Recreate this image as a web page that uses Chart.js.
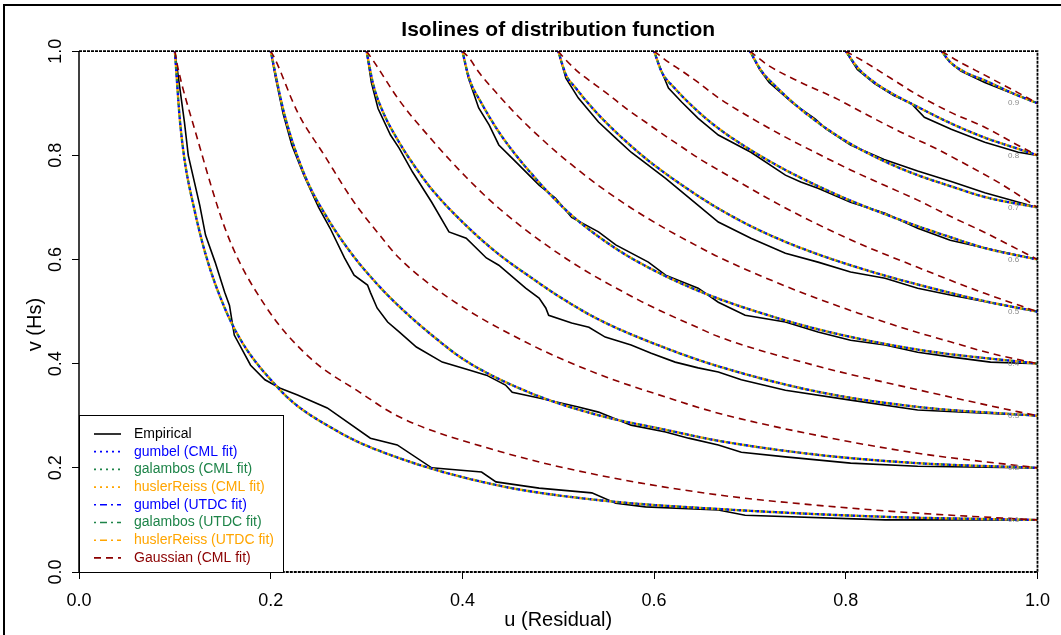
<!DOCTYPE html>
<html>
<head>
<meta charset="utf-8">
<script src="https://cdn.jsdelivr.net/npm/chart.js@4.4.1/dist/chart.umd.min.js"></script>
<style>
html, body { margin: 0; padding: 0; background: #fff; }
#wrap { position: relative; width: 1061px; height: 635px; }
</style>
</head>
<body>
<div id="wrap"><canvas id="isolines" width="1061" height="635"></canvas></div>
<script>
'use strict';

// contour levels and tick labels
const levels = ['0.1', '0.2', '0.3', '0.4', '0.5', '0.6', '0.7', '0.8', '0.9'];
const uTickLabels = ['0.0', '0.2', '0.4', '0.6', '0.8', '1.0'];
const vTickLabels = ['0.0', '0.2', '0.4', '0.6', '0.8', '1.0'];

// empirical isolines, [u, v], one list per level
const empiricalIsolines = [
  [[0.1,1],[0.11,0.864],[0.114,0.8],[0.126,0.704],[0.132,0.647],[0.142,0.595],[0.152,0.537],[0.157,0.512],[0.162,0.455],[0.179,0.397],[0.194,0.369],[0.21,0.353],[0.228,0.34],[0.259,0.315],[0.304,0.257],[0.332,0.244],[0.368,0.2],[0.42,0.192],[0.435,0.173],[0.48,0.161],[0.535,0.152],[0.56,0.132],[0.591,0.125],[0.667,0.119],[0.695,0.109],[0.841,0.1],[1,0.1]],
  [[0.2,1],[0.205,0.95],[0.213,0.88],[0.222,0.82],[0.235,0.76],[0.25,0.7],[0.262,0.66],[0.277,0.603],[0.287,0.57],[0.301,0.551],[0.304,0.537],[0.311,0.507],[0.322,0.48],[0.334,0.461],[0.352,0.432],[0.379,0.403],[0.407,0.388],[0.425,0.378],[0.445,0.359],[0.452,0.345],[0.48,0.334],[0.521,0.317],[0.542,0.307],[0.576,0.282],[0.612,0.269],[0.636,0.257],[0.667,0.244],[0.691,0.23],[0.737,0.221],[0.805,0.209],[0.875,0.203],[1,0.2]],
  [[0.3,1],[0.305,0.94],[0.312,0.89],[0.325,0.839],[0.334,0.814],[0.348,0.768],[0.368,0.71],[0.386,0.653],[0.404,0.641],[0.425,0.603],[0.438,0.589],[0.466,0.545],[0.48,0.526],[0.487,0.507],[0.49,0.493],[0.514,0.478],[0.532,0.47],[0.549,0.451],[0.576,0.436],[0.597,0.42],[0.622,0.403],[0.646,0.392],[0.667,0.384],[0.691,0.369],[0.737,0.349],[0.805,0.33],[0.875,0.311],[1,0.3]],
  [[0.4,1],[0.406,0.95],[0.417,0.891],[0.428,0.858],[0.438,0.82],[0.456,0.787],[0.48,0.743],[0.497,0.718],[0.514,0.681],[0.542,0.653],[0.56,0.628],[0.594,0.595],[0.612,0.57],[0.646,0.545],[0.667,0.518],[0.695,0.493],[0.737,0.48],[0.771,0.461],[0.805,0.445],[0.841,0.436],[0.875,0.422],[0.909,0.413],[0.951,0.403],[1,0.4]],
  [[0.5,1],[0.508,0.948],[0.521,0.91],[0.542,0.864],[0.56,0.833],[0.576,0.806],[0.612,0.756],[0.646,0.704],[0.667,0.672],[0.701,0.641],[0.737,0.612],[0.771,0.595],[0.805,0.576],[0.841,0.564],[0.875,0.545],[0.909,0.532],[1,0.5]],
  [[0.6,1],[0.608,0.96],[0.615,0.929],[0.629,0.902],[0.646,0.871],[0.667,0.839],[0.701,0.806],[0.737,0.762],[0.753,0.749],[0.771,0.737],[0.805,0.71],[0.841,0.689],[0.875,0.66],[0.909,0.637],[0.945,0.622],[1,0.6]],
  [[0.7,1],[0.71,0.965],[0.72,0.94],[0.745,0.9],[0.768,0.87],[0.78,0.85],[0.79,0.838],[0.805,0.82],[0.84,0.792],[0.875,0.77],[0.91,0.75],[0.945,0.728],[1,0.7]],
  [[0.8,1],[0.812,0.965],[0.83,0.938],[0.85,0.915],[0.868,0.9],[0.882,0.873],[0.91,0.85],[0.945,0.825],[0.98,0.806],[1,0.8]],
  [[0.9,1],[0.908,0.98],[0.92,0.962],[0.945,0.94],[0.972,0.92],[1,0.9]],
];

// fitted extreme-value copulas (gumbel, galambos, huslerReiss; CML and UTDC) lie on top of each other
const fittedIsolines = [
  [[0.1,1],[0.106,0.853],[0.121,0.691],[0.152,0.507],[0.207,0.355],[0.27,0.27],[0.332,0.22],[0.438,0.166],[0.542,0.138],[0.667,0.121],[0.84,0.106],[1,0.1]],
  [[0.2,1],[0.214,0.881],[0.235,0.764],[0.259,0.68],[0.287,0.605],[0.311,0.553],[0.334,0.51],[0.37,0.452],[0.404,0.405],[0.472,0.343],[0.542,0.301],[0.612,0.273],[0.667,0.252],[0.771,0.225],[0.875,0.209],[1,0.2]],
  [[0.3,1],[0.307,0.936],[0.317,0.884],[0.334,0.825],[0.348,0.785],[0.368,0.735],[0.404,0.665],[0.438,0.61],[0.472,0.565],[0.5,0.53],[0.542,0.485],[0.612,0.43],[0.667,0.395],[0.771,0.346],[0.875,0.317],[1,0.3]],
  [[0.4,1],[0.407,0.948],[0.42,0.9],[0.438,0.845],[0.456,0.8],[0.472,0.765],[0.49,0.728],[0.508,0.695],[0.529,0.662],[0.556,0.626],[0.576,0.603],[0.612,0.568],[0.646,0.54],[0.667,0.525],[0.695,0.507],[0.771,0.466],[0.875,0.427],[1,0.4]],
  [[0.5,1],[0.508,0.955],[0.518,0.93],[0.529,0.905],[0.542,0.878],[0.56,0.845],[0.576,0.818],[0.594,0.79],[0.612,0.765],[0.629,0.743],[0.646,0.722],[0.667,0.698],[0.701,0.664],[0.737,0.634],[0.771,0.61],[0.805,0.589],[0.841,0.569],[0.875,0.552],[0.909,0.536],[0.945,0.52],[1,0.5]],
  [[0.6,1],[0.608,0.96],[0.622,0.928],[0.646,0.884],[0.667,0.852],[0.701,0.81],[0.737,0.772],[0.771,0.741],[0.805,0.713],[0.841,0.687],[0.875,0.664],[0.909,0.643],[0.945,0.622],[1,0.6]],
  [[0.7,1],[0.712,0.962],[0.726,0.934],[0.747,0.898],[0.768,0.867],[0.785,0.845],[0.805,0.822],[0.841,0.788],[0.875,0.762],[0.909,0.741],[0.945,0.72],[1,0.7]],
  [[0.8,1],[0.813,0.967],[0.83,0.94],[0.851,0.916],[0.875,0.893],[0.909,0.862],[0.945,0.834],[0.979,0.813],[1,0.8]],
  [[0.9,1],[0.909,0.979],[0.924,0.96],[0.945,0.944],[0.972,0.921],[1,0.9]],
];

// Gaussian copula (CML fit)
const gaussianIsolines = [
  [[0.1,1],[0.103,0.97],[0.121,0.848],[0.155,0.647],[0.194,0.512],[0.241,0.411],[0.293,0.345],[0.334,0.298],[0.438,0.232],[0.542,0.186],[0.667,0.148],[0.771,0.128],[0.875,0.113],[1,0.1]],
  [[0.2,1],[0.204,0.987],[0.228,0.883],[0.256,0.8],[0.287,0.71],[0.311,0.653],[0.334,0.603],[0.386,0.526],[0.472,0.436],[0.542,0.38],[0.612,0.336],[0.667,0.305],[0.771,0.262],[0.875,0.228],[1,0.2]],
  [[0.3,1],[0.308,0.979],[0.334,0.906],[0.369,0.828],[0.404,0.758],[0.439,0.697],[0.508,0.602],[0.584,0.522],[0.612,0.497],[0.646,0.469],[0.667,0.452],[0.771,0.395],[0.875,0.35],[0.979,0.308],[1,0.3]],
  [[0.4,1],[0.407,0.987],[0.417,0.96],[0.435,0.921],[0.456,0.879],[0.472,0.85],[0.497,0.808],[0.514,0.782],[0.542,0.742],[0.576,0.699],[0.612,0.659],[0.646,0.625],[0.667,0.605],[0.737,0.549],[0.781,0.518],[0.813,0.497],[0.847,0.476],[0.875,0.46],[0.909,0.442],[0.951,0.42],[1,0.4]],
  [[0.5,1],[0.508,0.983],[0.521,0.96],[0.539,0.935],[0.553,0.916],[0.57,0.891],[0.591,0.864],[0.612,0.837],[0.629,0.816],[0.646,0.795],[0.667,0.772],[0.737,0.699],[0.805,0.638],[0.875,0.585],[0.945,0.535],[1,0.5]],
  [[0.6,1],[0.615,0.979],[0.629,0.962],[0.646,0.94],[0.66,0.92],[0.67,0.907],[0.701,0.872],[0.737,0.835],[0.771,0.803],[0.805,0.772],[0.841,0.742],[0.875,0.714],[0.909,0.683],[0.945,0.652],[0.979,0.62],[1,0.6]],
  [[0.7,1],[0.719,0.973],[0.753,0.94],[0.789,0.91],[0.823,0.877],[0.857,0.845],[0.893,0.814],[0.927,0.781],[0.962,0.745],[1,0.7]],
  [[0.8,1],[0.82,0.979],[0.847,0.948],[0.875,0.916],[0.909,0.883],[0.945,0.854],[0.979,0.82],[1,0.8]],
  [[0.9,1],[0.919,0.979],[0.945,0.954],[0.979,0.921],[1,0.9]],
];

const seriesNames = ['Empirical', 'gumbel (CML fit)', 'galambos (CML fit)', 'huslerReiss (CML fit)',
  'gumbel (UTDC fit)', 'galambos (UTDC fit)', 'huslerReiss (UTDC fit)', 'Gaussian (CML fit)'];

const BLUE = '#0000ff', GREEN = '#1e8449', ORANGE = '#ffa500', DARKRED = '#8b0000';
const DOTTED = [2, 4], DOTDASH = [2, 4, 7, 4], DASHED = [7, 5];
// offset keeps the overlapping dotted lines from hiding each other
const seriesStyles = [
  { color: '#000', dash: [], offset: 0, width: 1.6, smooth: false, order: 9 },
  { color: BLUE, dash: DOTTED, offset: 0, width: 2.4, smooth: true, order: 4 },
  { color: GREEN, dash: DOTTED, offset: 2, width: 2.4, smooth: true, order: 3 },
  { color: ORANGE, dash: DOTTED, offset: 4, width: 2.4, smooth: true, order: 2 },
  { color: BLUE, dash: DOTDASH, offset: 0, width: 1.6, smooth: true, order: 7 },
  { color: GREEN, dash: DOTDASH, offset: 6, width: 1.6, smooth: true, order: 6 },
  { color: ORANGE, dash: DOTDASH, offset: 11, width: 1.6, smooth: true, order: 5 },
  { color: DARKRED, dash: DASHED, offset: 0, width: 1.6, smooth: true, order: 1 },
];

const FONT = 'Liberation Sans, Arial, Helvetica, sans-serif';

function isolinesFor(s) {
  if (s === 0) return empiricalIsolines;
  if (s === 7) return gaussianIsolines;
  return fittedIsolines;
}

const datasets = [];
seriesNames.forEach((name, s) => {
  const st = seriesStyles[s];
  isolinesFor(s).forEach((line, i) => {
    datasets.push({
      label: name + ' ' + levels[i],
      data: line.map(p => ({ x: p[0], y: p[1] })),
      showLine: true,
      borderColor: st.color,
      borderWidth: st.width,
      borderDash: st.dash,
      borderDashOffset: st.offset,
      pointRadius: 0,
      cubicInterpolationMode: st.smooth ? 'monotone' : 'default',
      order: st.order,
    });
  });
});

// white page, outer frame, plot box, rotated v labels, contour labels, legend
const decorations = {
  id: 'decorations',
  beforeDraw(chart) {
    const ctx = chart.ctx;
    ctx.save();
    ctx.fillStyle = '#fff';
    ctx.fillRect(0, 0, chart.width, chart.height);
    ctx.strokeStyle = '#000';
    ctx.lineWidth = 2;
    ctx.beginPath();
    ctx.moveTo(4, chart.height);
    ctx.lineTo(4, 5);
    ctx.lineTo(chart.width, 5);
    ctx.stroke();
    ctx.restore();
  },
  afterDatasetsDraw(chart) {
    const { ctx, chartArea: a, scales } = chart;
    ctx.save();
    // plot box
    ctx.strokeStyle = '#000';
    ctx.lineWidth = 1.8;
    ctx.setLineDash([3, 1]);
    ctx.beginPath();
    ctx.moveTo(a.left, a.top); ctx.lineTo(a.right, a.top);
    ctx.lineTo(a.right, a.bottom); ctx.lineTo(a.left, a.bottom);
    ctx.stroke();
    ctx.setLineDash([]);
    ctx.lineWidth = 1.5;
    ctx.beginPath();
    ctx.moveTo(a.left, a.top); ctx.lineTo(a.left, a.bottom);
    ctx.stroke();

    // v tick labels, rotated like R's default
    ctx.fillStyle = '#000';
    ctx.font = '18px ' + FONT;
    ctx.textAlign = 'center';
    ctx.textBaseline = 'middle';
    scales.y.ticks.forEach((t, i) => {
      const y = scales.y.getPixelForValue(t.value);
      ctx.save();
      ctx.translate(56, y);
      ctx.rotate(-Math.PI / 2);
      ctx.fillText(vTickLabels[i], 0, 0);
      ctx.restore();
    });

    // v axis title
    ctx.save();
    ctx.font = '20px ' + FONT;
    ctx.translate(35, scales.y.getPixelForValue(0.475));
    ctx.rotate(-Math.PI / 2);
    ctx.fillText('v (Hs)', 0, 0);
    ctx.restore();

    // small contour labels near u = 1
    ctx.font = '8px ' + FONT;
    ctx.fillStyle = '#8c8c8c';
    levels.forEach(lv => {
      const x = scales.x.getPixelForValue(0.975);
      const y = scales.y.getPixelForValue(Number(lv));
      ctx.fillText(lv, x, y);
    });

    // legend
    const bx = a.left, bw = 204, bh = 157, by = a.bottom - bh;
    ctx.fillStyle = '#fff';
    ctx.fillRect(bx, by, bw, bh);
    ctx.strokeStyle = '#000';
    ctx.lineWidth = 1;
    ctx.strokeRect(bx + 0.5, by + 0.5, bw, bh);
    ctx.font = '14px ' + FONT;
    ctx.textAlign = 'left';
    seriesNames.forEach((name, s) => {
      const st = seriesStyles[s];
      const y = by + 19 + s * 17.7;
      ctx.strokeStyle = st.color;
      ctx.lineWidth = Math.min(st.width, 1.8);
      ctx.setLineDash(st.dash);
      ctx.beginPath();
      ctx.moveTo(bx + 15, y);
      ctx.lineTo(bx + 42, y);
      ctx.stroke();
      ctx.setLineDash([]);
      ctx.fillStyle = st.color;
      ctx.fillText(name, bx + 55, y);
    });
    ctx.restore();
  },
};

new Chart(document.getElementById('isolines'), {
  type: 'scatter',
  data: { datasets },
  options: {
    responsive: false,
    animation: false,
    events: [],
    layout: { padding: { left: 0, right: 21, top: 0, bottom: 0 } },
    plugins: {
      legend: { display: false },
      tooltip: { enabled: false },
      title: {
        display: true,
        fullSize: false,
        text: 'Isolines of distribution function',
        color: '#000',
        font: { family: FONT, size: 21, weight: 'bold' },
        padding: { top: 18, bottom: 8 },
      },
    },
    scales: {
      x: {
        type: 'linear',
        min: 0,
        max: 1,
        afterFit(scale) { scale.height = 63; },
        border: { display: false },
        grid: { drawOnChartArea: false, drawTicks: true, tickLength: 7, color: '#000' },
        ticks: {
          stepSize: 0.2,
          color: '#000',
          padding: 11,
          font: { family: FONT, size: 18 },
          callback: (v, i) => uTickLabels[i],
        },
        title: {
          display: true,
          text: 'u (Residual)',
          color: '#000',
          font: { family: FONT, size: 20 },
          padding: { top: 0, bottom: 3 },
        },
      },
      y: {
        type: 'linear',
        min: 0,
        max: 1,
        afterFit(scale) { scale.width = 79; },
        border: { display: false },
        grid: { drawOnChartArea: false, drawTicks: true, tickLength: 7, color: '#000' },
        ticks: { stepSize: 0.2, display: false },
        title: { display: false },
      },
    },
  },
  plugins: [decorations],
});
</script>
</body>
</html>
